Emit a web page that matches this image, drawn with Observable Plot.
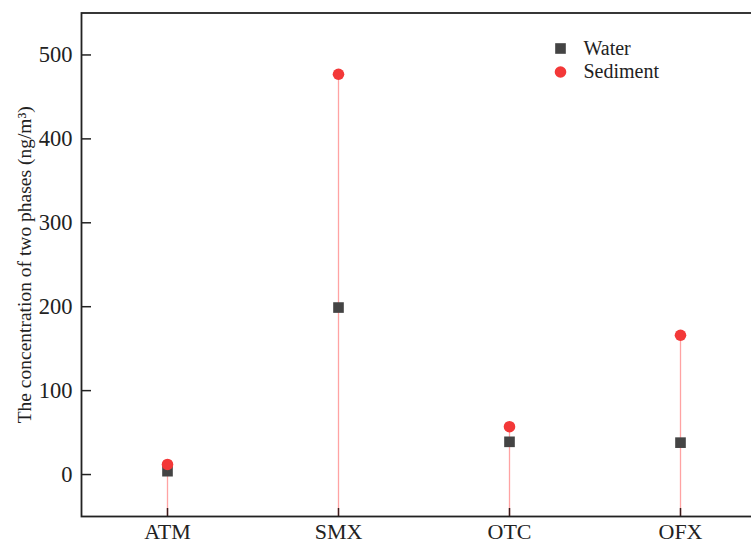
<!DOCTYPE html>
<html>
<head>
<meta charset="utf-8">
<script src="https://cdn.jsdelivr.net/npm/d3@7"></script>
<script src="https://cdn.jsdelivr.net/npm/@observablehq/plot@0.6"></script>
<style>
  html, body { margin: 0; padding: 0; background: #fff; }
  svg { display: block; }
</style>
</head>
<body>
<div id="chart"></div>
<script>
const categories = ["ATM", "SMX", "OTC", "OFX"];
const water = [4, 199, 39, 38];
const sediment = [12, 477, 57, 166];
const yTicks = [0, 100, 200, 300, 400, 500];
const yDomain = [-50, 550];
const seriesNames = ["Water", "Sediment"];
const yLabel = "The concentration of two phases (ng/m³)";

const rows = categories.map((c, i) => ({cat: c, water: water[i], sediment: sediment[i]}));

const W = 751, H = 545;
const mL = 81, mT = 12.5, mB = 29, mR = -14;
const innerW = W - mL - mR, innerH = H - mT - mB;
const font = "Liberation Serif, Times New Roman, serif";

const chart = Plot.plot({
  width: W,
  height: H,
  marginLeft: mL,
  marginTop: mT,
  marginBottom: mB,
  marginRight: mR,
  style: {fontFamily: font, fontSize: "22px", color: "#222", background: "#fff"},
  x: {type: "point", domain: categories, padding: 0.5},
  y: {domain: yDomain},
  marks: [
    Plot.ruleX(rows, {x: "cat", y1: yDomain[0], y2: "sediment", stroke: "#ffa3a3", strokeWidth: 1.3}),
    Plot.tickY(yTicks, {y: d => d, insetRight: innerW - 10, stroke: "#222", strokeWidth: 1.5}),
    Plot.tickX(categories, {x: d => d, insetTop: innerH - 8, stroke: "#3a1a1a", strokeWidth: 1.5}),
    Plot.axisY({ticks: yTicks, tickSize: 0, tickPadding: 9, label: null, fontSize: 22.5, fontFamily: font}),
    Plot.axisX({tickSize: 0, tickPadding: 7, label: null, fontSize: 22, fontFamily: font}),
    Plot.frame({stroke: "#222", strokeWidth: 1.8}),
    Plot.dot(rows, {x: "cat", y: "water", symbol: "square", r: 6, fill: "#444", stroke: "none"}),
    Plot.dot(rows, {x: "cat", y: "sediment", symbol: "circle", r: 5.8, fill: "#f33838", stroke: "none"}),
    Plot.text([yLabel], {text: d => d, frameAnchor: "left", rotate: -90, dx: -57, textAnchor: "middle", lineAnchor: "middle", fontSize: 19.5, fontFamily: font, fill: "#222"}),
    // legend
    Plot.dot([seriesNames[0]], {frameAnchor: "top-left", dx: 479, dy: 35.5, symbol: "square", r: 6, fill: "#444"}),
    Plot.dot([seriesNames[1]], {frameAnchor: "top-left", dx: 479, dy: 59, symbol: "circle", r: 5.8, fill: "#f33838"}),
    Plot.text([seriesNames[0]], {text: d => d, frameAnchor: "top-left", dx: 502, dy: 35.5, textAnchor: "start", lineAnchor: "middle", fontSize: 20, fontFamily: font, fill: "#222"}),
    Plot.text([seriesNames[1]], {text: d => d, frameAnchor: "top-left", dx: 502, dy: 59, textAnchor: "start", lineAnchor: "middle", fontSize: 20, fontFamily: font, fill: "#222"})
  ]
});
document.getElementById("chart").appendChild(chart);
</script>
</body>
</html>
